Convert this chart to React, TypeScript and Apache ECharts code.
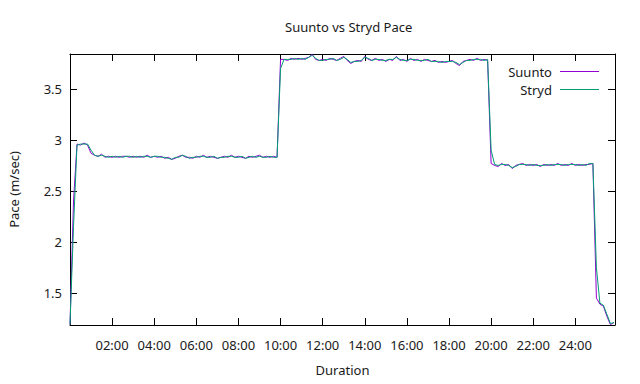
import React, { useEffect, useRef } from "react";
import * as echarts from "echarts";

// Sampling step of both recordings (seconds)
const SAMPLE_STEP_SEC = 10;

// Suunto pace (m/sec), one value every 10 s from 00:00
const suuntoPace = [
  1.19, 2.40, 2.96, 2.95, 2.97, 2.95, 2.87, 2.85, 2.84, 2.86,
  2.83, 2.84, 2.83, 2.84, 2.83, 2.84, 2.84, 2.83, 2.84, 2.83,
  2.84, 2.83, 2.85, 2.83, 2.84, 2.83, 2.84, 2.82, 2.83, 2.81,
  2.82, 2.84, 2.85, 2.83, 2.83, 2.82, 2.84, 2.83, 2.85, 2.83,
  2.84, 2.83, 2.82, 2.83, 2.84, 2.83, 2.85, 2.83, 2.84, 2.83,
  2.82, 2.84, 2.83, 2.84, 2.85, 2.83, 2.84, 2.83, 2.84, 2.83,
  3.79, 3.79, 3.78, 3.80, 3.79, 3.80, 3.79, 3.80, 3.81, 3.84,
  3.79, 3.78, 3.79, 3.78, 3.80, 3.79, 3.78, 3.80, 3.82, 3.78,
  3.75, 3.77, 3.78, 3.77, 3.82, 3.79, 3.78, 3.80, 3.78, 3.79,
  3.77, 3.79, 3.78, 3.82, 3.78, 3.79, 3.77, 3.80, 3.78, 3.79,
  3.77, 3.79, 3.78, 3.77, 3.78, 3.76, 3.77, 3.76, 3.77, 3.78,
  3.75, 3.73, 3.77, 3.78, 3.79, 3.78, 3.80, 3.78, 3.79, 3.78,
  2.77, 2.75, 2.74, 2.77, 2.75, 2.76, 2.72, 2.75, 2.76, 2.77,
  2.75, 2.76, 2.75, 2.76, 2.74, 2.76, 2.75, 2.76, 2.75, 2.77,
  2.75, 2.76, 2.75, 2.77, 2.75, 2.76, 2.75, 2.76, 2.76, 2.77,
  1.45, 1.39, 1.37, 1.27, 1.19, 1.21,
];

// Stryd pace (m/sec), one value every 10 s from 00:00
const strydPace = [
  1.19, 2.15, 2.95, 2.96, 2.96, 2.96, 2.90, 2.85, 2.84, 2.85,
  2.84, 2.83, 2.84, 2.83, 2.84, 2.83, 2.84, 2.84, 2.83, 2.84,
  2.83, 2.84, 2.84, 2.83, 2.84, 2.84, 2.83, 2.83, 2.82, 2.81,
  2.83, 2.83, 2.85, 2.84, 2.82, 2.83, 2.83, 2.84, 2.84, 2.83,
  2.83, 2.84, 2.82, 2.83, 2.83, 2.84, 2.84, 2.83, 2.83, 2.84,
  2.82, 2.83, 2.84, 2.83, 2.84, 2.83, 2.83, 2.84, 2.83, 2.83,
  3.70, 3.79, 3.79, 3.79, 3.80, 3.79, 3.80, 3.79, 3.81, 3.83,
  3.80, 3.78, 3.78, 3.79, 3.79, 3.80, 3.78, 3.79, 3.81, 3.79,
  3.76, 3.77, 3.77, 3.78, 3.81, 3.80, 3.78, 3.79, 3.79, 3.78,
  3.78, 3.79, 3.79, 3.81, 3.79, 3.78, 3.78, 3.79, 3.79, 3.78,
  3.78, 3.78, 3.79, 3.77, 3.77, 3.77, 3.76, 3.77, 3.77, 3.77,
  3.76, 3.74, 3.76, 3.78, 3.78, 3.79, 3.79, 3.79, 3.78, 3.79,
  2.90, 2.76, 2.75, 2.76, 2.76, 2.75, 2.73, 2.74, 2.76, 2.76,
  2.76, 2.75, 2.76, 2.75, 2.75, 2.75, 2.76, 2.75, 2.76, 2.76,
  2.76, 2.75, 2.76, 2.76, 2.76, 2.75, 2.76, 2.75, 2.77, 2.77,
  1.75, 1.40, 1.38, 1.29, 1.20, 1.21,
];

const seriesNames = ["Suunto", "Stryd"];
const seriesColors = ["#9400d3", "#009e73"];

const X_MAX_SEC = 1553;
const Y_MIN = 1.186;
const Y_MAX = 3.843;

const FONT = "'Noto Sans', 'Open Sans', sans-serif";
const TEXT_COLOR = "#1a1a1a";

function fmtDuration(v: number): string {
  const m = Math.floor(v / 60);
  const s = Math.round(v % 60);
  return `${String(m).padStart(2, "0")}:${String(s).padStart(2, "0")}`;
}

export default function App() {
  const ref = useRef<HTMLDivElement>(null);

  useEffect(() => {
    if (!ref.current) return;
    const chart = echarts.init(ref.current, undefined, { renderer: "svg" });

    const toPairs = (arr: number[]) => arr.map((v, i) => [i * SAMPLE_STEP_SEC, v]);

    const baseX = {
      type: "value" as const,
      min: 0,
      max: X_MAX_SEC,
      interval: 120,
      splitLine: { show: false },
      axisLine: { show: true, onZero: false, lineStyle: { color: "#000", width: 1 } },
      axisTick: { show: true, inside: true, length: 7, lineStyle: { color: "#000", width: 1 } },
    };
    const baseY = {
      type: "value" as const,
      min: Y_MIN,
      max: Y_MAX,
      splitNumber: 5,
      splitLine: { show: false },
      axisLine: { show: true, onZero: false, lineStyle: { color: "#000", width: 1 } },
      axisTick: { show: true, inside: true, length: 7, lineStyle: { color: "#000", width: 1 } },
    };

    chart.setOption({
      animation: false,
      backgroundColor: "#fff",
      textStyle: { fontFamily: FONT },
      title: {
        text: "Suunto vs Stryd Pace",
        left: 280,
        top: 15,
        textStyle: { fontFamily: FONT, fontSize: 13, fontWeight: "normal", color: TEXT_COLOR },
      },
      legend: {
        data: seriesNames,
        orient: "vertical",
        right: 41,
        top: 64,
        padding: 0,
        align: "right",
        icon: "rect",
        itemWidth: 39,
        itemHeight: 1,
        itemGap: 3,
        selectedMode: false,
        textStyle: {
          fontFamily: FONT,
          fontSize: 13,
          color: TEXT_COLOR,
          lineHeight: 15,
          padding: [0, 3, 0, 0],
        },
      },
      grid: {
        left: 70,
        right: 25,
        top: 54,
        bottom: 59,
        containLabel: false,
        outerBoundsMode: "none",
      },
      xAxis: [
        {
          ...baseX,
          position: "bottom",
          name: "Duration",
          nameLocation: "middle",
          nameGap: 38,
          nameTextStyle: { fontFamily: FONT, fontSize: 13, color: TEXT_COLOR },
          axisLabel: {
            show: true,
            margin: 13,
            showMinLabel: false,
            showMaxLabel: false,
            fontFamily: FONT,
            fontSize: 13,
            color: TEXT_COLOR,
            formatter: (v: number) => fmtDuration(v),
          },
        },
        {
          ...baseX,
          position: "top",
          axisLabel: { show: false },
        },
      ],
      yAxis: [
        {
          ...baseY,
          position: "left",
          name: "Pace (m/sec)",
          nameLocation: "middle",
          nameGap: 50,
          nameRotate: 90,
          nameTextStyle: { fontFamily: FONT, fontSize: 13, color: TEXT_COLOR },
          axisLabel: {
            show: true,
            margin: 8,
            showMinLabel: false,
            showMaxLabel: false,
            fontFamily: FONT,
            fontSize: 13,
            color: TEXT_COLOR,
          },
        },
        {
          ...baseY,
          position: "right",
          axisLabel: { show: false },
        },
      ],
      series: [
        {
          name: seriesNames[0],
          type: "line",
          xAxisIndex: 0,
          yAxisIndex: 0,
          data: toPairs(suuntoPace),
          showSymbol: false,
          symbol: "none",
          color: seriesColors[0],
          lineStyle: { color: seriesColors[0], width: 1 },
          emphasis: { disabled: true },
        },
        {
          name: seriesNames[1],
          type: "line",
          xAxisIndex: 0,
          yAxisIndex: 0,
          data: toPairs(strydPace),
          showSymbol: false,
          symbol: "none",
          color: seriesColors[1],
          lineStyle: { color: seriesColors[1], width: 1 },
          emphasis: { disabled: true },
        },
      ],
    });

    return () => chart.dispose();
  }, []);

  return (
    <div
      ref={ref}
      style={{ position: "absolute", left: 0, top: 0, width: 640, height: 384 }}
    />
  );
}
